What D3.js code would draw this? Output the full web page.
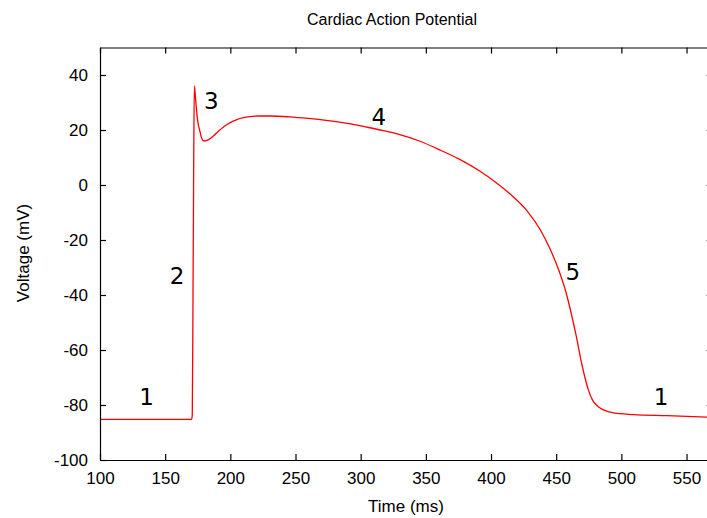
<!DOCTYPE html>
<html>
<head>
<meta charset="utf-8">
<script src="https://cdn.jsdelivr.net/npm/d3@7"></script>
<style>
  html, body { margin: 0; padding: 0; background: #fff; }
  svg { display: block; }
  .tick text { font-family: "Liberation Sans", Arial, sans-serif; font-size: 17px; fill: #000; }
</style>
</head>
<body>
<svg id="chart" width="707" height="518"></svg>
<script>
// Membrane voltage trace of a ventricular myocyte over one beat
const timeMs = [100, 150, 169.9, 170.4, 170.8, 171.3, 171.9, 172.4, 173.4, 174.7, 176.7, 178.0,
  179.8, 183, 187, 191, 195, 199.8, 205, 210, 215.1, 222, 230.5, 245, 260, 275, 290, 305,
  315, 330, 345, 361, 376, 391.6, 403, 414.7, 427.5, 437.7, 445.4, 451.8, 456.9,
  460.7, 465.2, 469.6, 474.7, 478, 481.2, 486.3, 494, 509.3, 534.9, 570];
const voltageMv = [-85.2, -85.2, -85.2, -85.0, -83.5, -45, 9, 36, 30.9, 24.2, 19.4, 17.0,
  16.0, 16.4, 17.8, 19.6, 21.2, 22.7, 23.8, 24.5, 24.9, 25.1, 25.1, 24.8, 24.2, 23.4, 22.4, 21.0,
  20.0, 18.3, 16.0, 12.7, 9.3, 5.0, 1.2, -3.3, -9.3, -16.2, -23.4, -30.7, -38.0,
  -45.0, -54.5, -65.0, -74.5, -78.3, -80.2, -81.8, -82.9, -83.5, -83.9, -84.5];

// Phase numbers and where they sit (data units, glyph baseline)
const phaseText = ["1", "2", "3", "4", "5", "1"];
const phaseX = [135.7, 159.2, 185.4, 313.9, 462.8, 530.5];
const phaseY = [-80, -36, 27.5, 21.8, -34.5, -80];

const xDomain = [100, 570];
const yDomain = [-100, 50];
const xTicks = [100, 150, 200, 250, 300, 350, 400, 450, 500, 550];
const yTicks = [-100, -80, -60, -40, -20, 0, 20, 40];

const svg = d3.select("#chart");
const plotLeft = 100, plotRight = 712.6, plotTop = 47.5, plotBottom = 460;

const x = d3.scaleLinear().domain(xDomain).range([plotLeft, plotRight]);
const y = d3.scaleLinear().domain(yDomain).range([plotBottom, plotTop]);

// Trace
const pts = timeMs.map((t, i) => [t, voltageMv[i]]);
svg.append("path")
  .datum(pts)
  .attr("fill", "none")
  .attr("stroke", "#ff0000")
  .attr("stroke-width", 1.3)
  .attr("stroke-linejoin", "round")
  .attr("d", d3.line().x(d => x(d[0])).y(d => y(d[1])).curve(d3.curveMonotoneX));

// Axes with inward ticks on all four sides
function styleAxis(g) {
  g.selectAll(".domain").attr("stroke", "#000").attr("stroke-width", 1.2);
  g.selectAll(".tick line").attr("stroke", "#000").attr("stroke-width", 1.2);
}
const plain = d => String(d);

svg.append("g")
  .attr("transform", `translate(0,${plotBottom})`)
  .call(d3.axisBottom(x).tickValues(xTicks).tickFormat(plain).tickSizeInner(-6).tickSizeOuter(0).tickPadding(12))
  .call(styleAxis)
  .call(g => g.attr("font-family", null).attr("font-size", null));

svg.append("g")
  .attr("transform", `translate(0,${plotTop})`)
  .call(d3.axisTop(x).tickValues(xTicks).tickSizeInner(-6).tickSizeOuter(0).tickFormat(""))
  .call(styleAxis);

svg.append("g")
  .attr("transform", `translate(${plotLeft},0)`)
  .call(d3.axisLeft(y).tickValues(yTicks).tickFormat(plain).tickSizeInner(-6).tickSizeOuter(0).tickPadding(12))
  .call(styleAxis)
  .call(g => g.attr("font-family", null).attr("font-size", null));

svg.append("g")
  .attr("transform", `translate(${plotRight},0)`)
  .call(d3.axisRight(y).tickValues(yTicks).tickSizeInner(-6).tickSizeOuter(0).tickFormat(""))
  .call(styleAxis);

// Phase labels
svg.append("g")
  .selectAll("text")
  .data(phaseText)
  .join("text")
  .attr("x", (d, i) => x(phaseX[i]))
  .attr("y", (d, i) => y(phaseY[i]))
  .attr("text-anchor", "middle")
  .attr("font-family", "DejaVu Sans, sans-serif")
  .attr("font-size", 23)
  .text(d => d);

// Title and axis titles
svg.append("text")
  .attr("x", 392).attr("y", 25)
  .attr("text-anchor", "middle")
  .attr("font-family", "Liberation Sans, Arial, sans-serif")
  .attr("font-size", 16)
  .text("Cardiac Action Potential");

svg.append("text")
  .attr("x", 406).attr("y", 512)
  .attr("text-anchor", "middle")
  .attr("font-family", "Liberation Sans, Arial, sans-serif")
  .attr("font-size", 17)
  .text("Time (ms)");

svg.append("text")
  .attr("transform", "translate(29,253) rotate(-90)")
  .attr("text-anchor", "middle")
  .attr("font-family", "Liberation Sans, Arial, sans-serif")
  .attr("font-size", 17)
  .text("Voltage (mV)");
</script>
</body>
</html>
